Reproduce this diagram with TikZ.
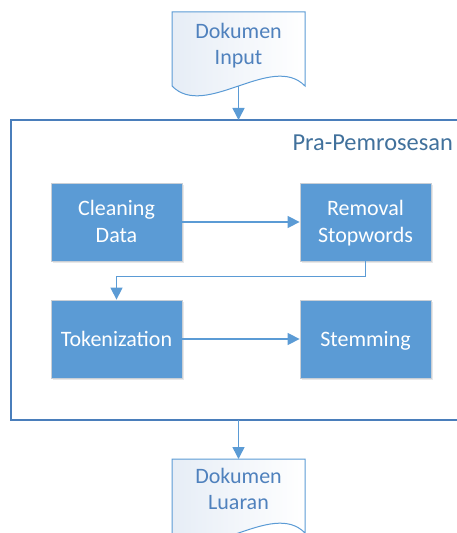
\documentclass[tikz,border=0pt]{standalone}
\usepackage{fontspec}
\setmainfont{Carlito}
\usetikzlibrary{arrows.meta,shadows,positioning}
\definecolor{boxblue}{HTML}{5B9BD5}
\definecolor{boxedge}{HTML}{C9CFD6}
\definecolor{linec}{HTML}{5B9BD5}
\definecolor{frame}{HTML}{4A7EBB}
\definecolor{labelc}{HTML}{41719C}
\definecolor{doctext}{HTML}{4F81BD}
\definecolor{docfill}{HTML}{E6EDF6}
\newcommand\tstrut{\rule{0pt}{22.8bp}}
\tikzset{
  procbox/.style={draw=boxedge, line width=0.8bp, fill=boxblue, text=white,
    minimum width=131bp, minimum height=78bp, inner sep=0pt, align=center,
    font=\fontsize{22bp}{26.8bp}\selectfont,
    drop shadow={opacity=0.18, shadow xshift=2bp, shadow yshift=-2bp}},
  doclabel/.style={text=doctext, align=center, inner sep=0pt,
    font=\fontsize{22bp}{26.3bp}\selectfont},
  docshape/.style={draw=linec, line width=1bp, left color=docfill, right color=white},
  conn/.style={draw=linec, line width=1.5bp, -{Triangle[length=12bp,width=12bp]}},
}
\begin{document}
\begin{tikzpicture}[x=1bp,y=-1bp]
\useasboundingbox (0,0) rectangle (457,533);
\clip (0,0) rectangle (457,533);
% document shapes
\path[docshape] (172,12) -- (305,12) -- (305,86)
  .. controls (272,52) and (205,120) .. (172,86) -- cycle;
\path[docshape] (172,459) -- (305,459) -- (305,533)
  .. controls (272,499) and (205,567) .. (172,533) -- cycle;
\node[doclabel] (din) at (238.5,46) {Dokumen\strut\\Input\strut};
\node[doclabel] (dout) at (238.5,491) {Dokumen\strut\\Luaran\strut};
\coordinate (dinb) at (238.5,86);
\coordinate (doutt) at (238.5,459);
% container
\draw[frame, line width=1.3bp] (470,120) -- (11,120) -- (11,420) -- (470,420);
\coordinate (ctop) at (238.5,120);
\coordinate (cbot) at (238.5,420);
\node[text=labelc, anchor=base east, inner sep=0pt, font=\fontsize{24.4bp}{29bp}\selectfont] (lbl) at (453,150.5) {Pra-Pemrosesan};
% process boxes
\node[procbox] (clean) at (116.5,222) {Cleaning\tstrut\strut\\Data\strut};
\node[procbox] (rem) at (365.5,222) {Removal\tstrut\strut\\Stopwords\strut};
\node[procbox] (tok) at (116.5,339) {Tokenization\tstrut\strut};
\node[procbox] (stem) at (365.5,339) {Stemming\tstrut\strut};
% connectors
\draw[conn] (dinb) -- (ctop);
\draw[conn] (clean) -- (rem);
\draw[conn] (rem.south) -- ++(0,15) -| (tok.north);
\draw[conn] (tok) -- (stem);
\draw[conn] (cbot) -- (doutt);
\end{tikzpicture}
\end{document}
